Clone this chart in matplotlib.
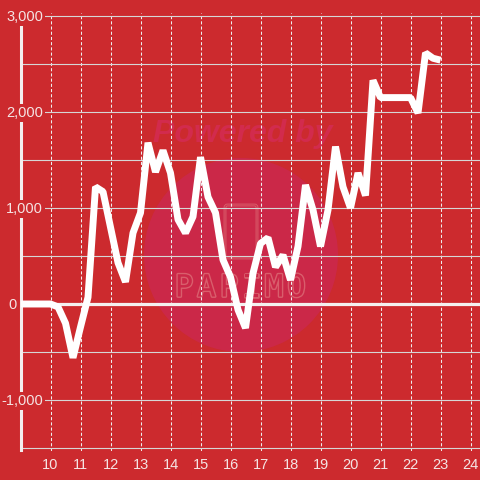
import matplotlib
matplotlib.use("Agg")
import matplotlib.pyplot as plt
import matplotlib.patheffects as pe
from matplotlib.patches import Circle, FancyBboxPatch
from matplotlib.transforms import blended_transform_factory

# hours of the day (15 min steps) and running value
hours = [9.0, 9.25, 9.5, 9.75, 10.0, 10.25, 10.5, 10.75, 11.0, 11.25,
         11.5, 11.75, 12.0, 12.25, 12.5, 12.75, 13.0, 13.25, 13.5, 13.75,
         14.0, 14.25, 14.5, 14.75, 15.0, 15.25, 15.5, 15.75, 16.0, 16.25,
         16.5, 16.75, 17.0, 17.25, 17.5, 17.75, 18.0, 18.25, 18.5, 18.75,
         19.0, 19.25, 19.5, 19.75, 20.0, 20.25, 20.5, 20.75, 21.0, 21.25,
         21.5, 21.75, 22.0, 22.25, 22.5, 22.75, 23.0]
values = [0, 0, 0, 0, 0, -30, -200, -560, -240, 70,
          1220, 1170, 800, 430, 230, 740, 950, 1680, 1375, 1600,
          1365, 880, 740, 910, 1530, 1115, 950, 460, 280, -60,
          -250, 320, 630, 690, 385, 510, 250, 600, 1240, 980,
          600, 980, 1640, 1220, 1000, 1365, 1130, 2330, 2150, 2150,
          2150, 2150, 2150, 1990, 2615, 2560, 2540]

xticks = list(range(10, 25))
ygrid = [-1500, -1000, -500, 500, 1000, 1500, 2000, 2500, 3000]
ylabels = [3000, 2000, 1000, 0, -1000]

BG = "#cc2a2e"
LABEL = "#f5e4e4"
PINK = "#d95e6c"
DISC = "#cb2848"

plt.rcParams['font.family'] = ['Liberation Sans', 'DejaVu Sans']

fig = plt.figure(figsize=(4.8, 4.8), dpi=100, facecolor=BG)


# watermark, drawn behind the axes (pixel coords from the top-left)
def fx(px):
    return px / 480


def fy(py):
    return 1 - py / 480


outline = [pe.withStroke(linewidth=2.0, foreground=PINK)]
fig.patches.append(Circle((fx(241), fy(255)), 97 / 480, transform=fig.transFigure,
                          facecolor=DISC, edgecolor="none", zorder=-2))
fig.patches.append(FancyBboxPatch((fx(225), fy(258)), 32 / 480, 53 / 480,
                                  boxstyle="round,pad=0,rounding_size=0.005",
                                  transform=fig.transFigure, facecolor="none",
                                  edgecolor=DISC, lw=0.6, zorder=-1,
                                  path_effects=outline))
fig.text(fx(243), fy(134), "Powered by", ha="center", va="center", fontsize=23,
         fontweight="bold", fontstyle="italic", color="#d22b4d", zorder=-1)
for i, ch in enumerate("PAPIMO"):
    fig.text(fx(184 + 22.5 * i), fy(288), ch, ha="center", va="center",
             fontsize=22, family="DejaVu Sans Mono", color=DISC, zorder=-1,
             path_effects=outline)

ax = fig.add_axes([20.5 / 480, 29.12 / 480, 460 / 480, 437.76 / 480])
ax.set_facecolor("none")
ax.set_xlim(9.0, 24.333)
ax.set_ylim(-1530, 3030)

ax.set_xticks(xticks)
ax.set_xticklabels([str(t) for t in xticks])
ax.set_yticks(ygrid)
ax.tick_params(axis="x", length=0, pad=5, labelsize=10.5, labelcolor=LABEL)
ax.tick_params(axis="y", length=0, labelleft=False)
ax.set_axisbelow(True)
ax.grid(axis="x", color="#eeeeee", lw=0.75, linestyle=(0, (3, 2)))
ax.grid(axis="y", color="#d6d6d6", lw=0.8)

for s in ["top", "right", "bottom"]:
    ax.spines[s].set_visible(False)
ax.spines["left"].set_color("#f4eeee")
ax.spines["left"].set_linewidth(2.2)
ax.spines["left"].set_bounds(-1520, 2920)

ax.axhline(0, color="#f4f0f0", lw=2.3, zorder=2)

trans = blended_transform_factory(ax.transAxes, ax.transData)
for v in ylabels:
    # the "0" label sits left of the axis line, the others end at ~43px
    xpos = -0.009 if v == 0 else 0.049
    ax.text(xpos, v - 10, f"{v:,}", transform=trans, ha="right", va="center",
            fontsize=10.5, color=LABEL, zorder=5, clip_on=False,
            bbox=dict(boxstyle="square,pad=0.15", fc=BG, ec="none"))

ax.plot(hours, values, color="white", lw=5, solid_joinstyle="bevel",
        solid_capstyle="butt", zorder=4)

fig.savefig("out.png", dpi=100, facecolor=BG)
